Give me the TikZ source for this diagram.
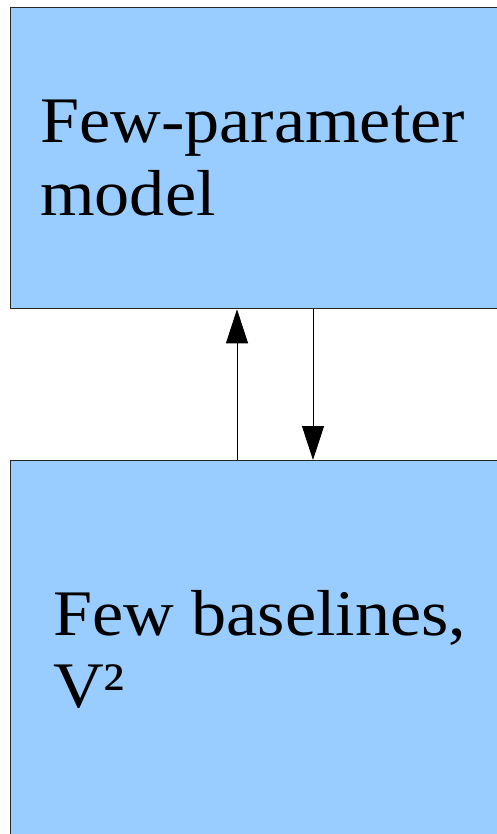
\documentclass[tikz,border=0pt]{standalone}
\usepackage{fontspec}
\setmainfont[FakeStretch=1.08]{Liberation Serif}
\usetikzlibrary{arrows.meta}
\definecolor{boxblue}{HTML}{99CCFF}
\tikzset{
  stagebox/.style={draw=black!85, line width=1.3pt, fill=boxblue, rectangle,
    anchor=north west, inner sep=0pt, minimum width=520pt},
  boxtext/.style={anchor=base west, inner sep=0pt, font=\fontsize{65}{72}\selectfont},
  flow/.style={line width=0.9pt, -{Triangle[length=34pt,width=22pt]}}
}
\begin{document}
\begin{tikzpicture}[x=1pt,y=-1pt]
  \useasboundingbox (0,0) rectangle (497,834);
  \clip (0,0) rectangle (497,834);
  % the two stages
  \node[stagebox, minimum height=301pt] (model) at (10,7) {};
  \node[stagebox, minimum height=400pt] (data) at (10,460) {};
  % labels
  \node[boxtext] (modeltxt) at (40,143) {Few-parameter};
  \node[boxtext] (modeltxt2) at (40,215) {model};
  \node[boxtext] (datatxt) at (53,635) {Few baselines,};
  \node[boxtext] (datatxt2) at (53,707) {V²};
  % connectors between the stages
  \coordinate (upx) at (237,0);
  \coordinate (downx) at (313,0);
  \draw[flow] (data.north -| upx) -- (model.south -| upx);
  \draw[flow] (model.south -| downx) -- (data.north -| downx);
\end{tikzpicture}
\end{document}
